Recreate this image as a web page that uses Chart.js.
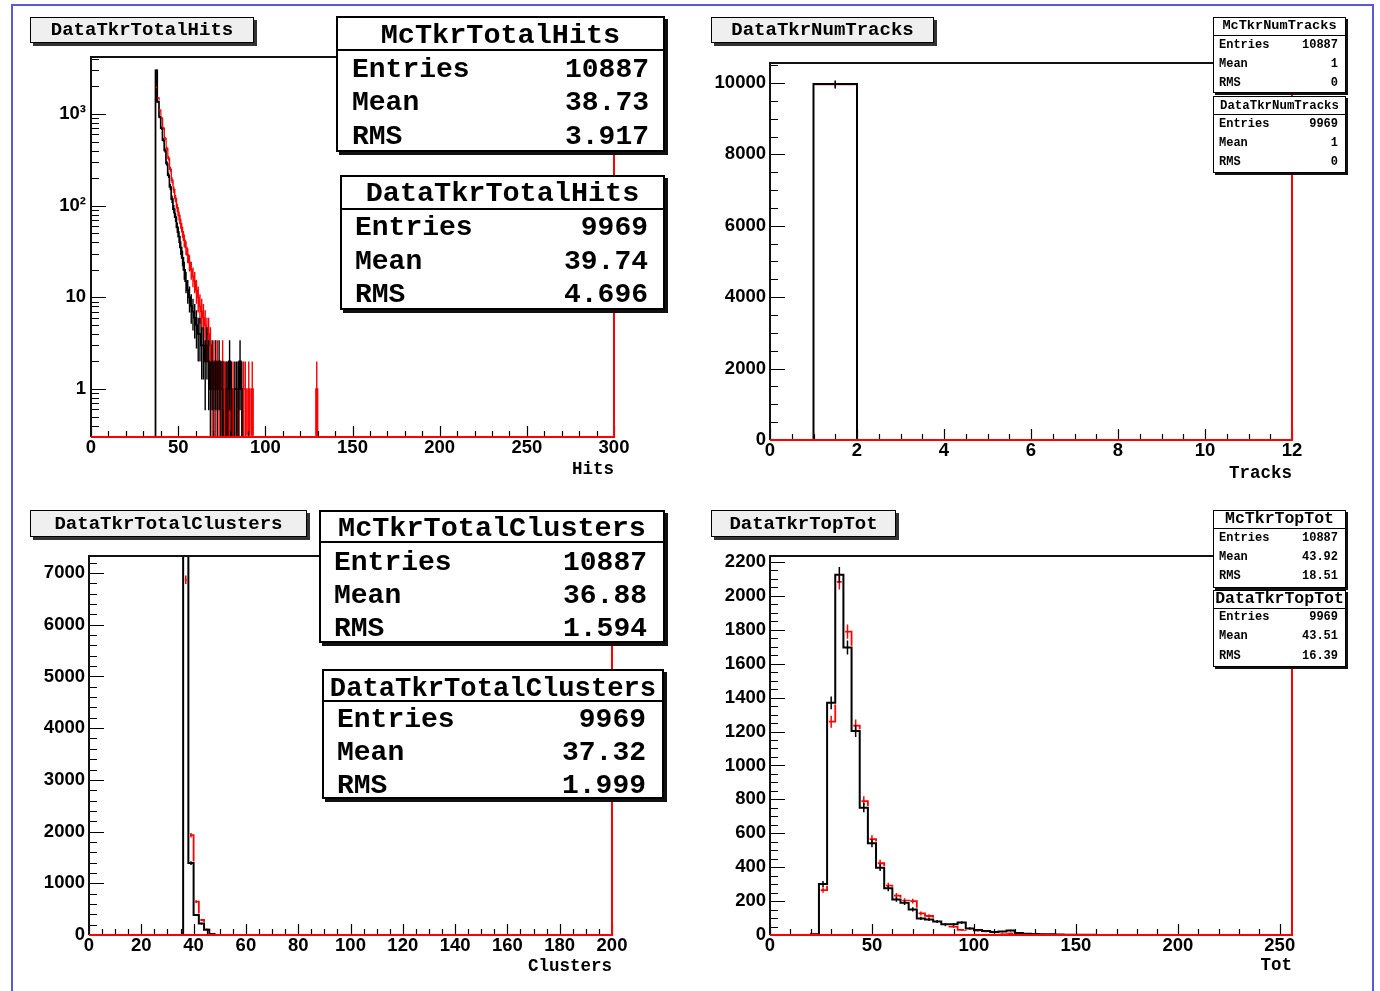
<!DOCTYPE html>
<html>
<head>
<meta charset="utf-8">
<title>Tkr histograms</title>
<script src="https://cdn.jsdelivr.net/npm/chart.js@4.4.1/dist/chart.umd.min.js"></script>
<style>
html,body{margin:0;padding:0;background:#fff;}
#page{position:relative;width:1380px;height:991px;overflow:hidden;background:#fff;}
#page canvas{position:absolute;left:0;top:0;width:1380px;height:991px;}
.frameborder{position:absolute;left:11px;top:4px;width:1363px;height:1010px;border:2px solid #5a5ad8;box-sizing:border-box;}
.tbox{position:absolute;box-sizing:border-box;background:#efefef;border:1.5px solid #000;box-shadow:3px 3px 0 #333;font:bold 19px "Liberation Mono",monospace;color:#000;display:flex;align-items:center;justify-content:center;white-space:nowrap;}
.stat{position:absolute;box-sizing:border-box;background:#fff;border:2px solid #000;box-shadow:3px 3px 0 #111;font-family:"Liberation Mono",monospace;font-weight:bold;color:#000;}
.stat.small{border-width:1.5px;box-shadow:2px 2px 0 #111;}
.stat .sep{position:absolute;left:0;right:0;height:0;border-top:2px solid #000;}
.stat.small .sep{border-top-width:1.5px;}
.stat span{position:absolute;white-space:nowrap;line-height:1;}
</style>
</head>
<body>
<div id="page">
  <div class="frameborder"></div>
  <canvas id="c1" width="1380" height="991"></canvas>
  <canvas id="c2" width="1380" height="991"></canvas>
  <canvas id="c3" width="1380" height="991"></canvas>
  <canvas id="c4" width="1380" height="991"></canvas>
</div>
<script>
// ================= DATA =================
// --- TotalHits (bin width 1, log y) ---
const dataHitsStart = 37;
const dataHitsVals = [3000,1360,930,700,520,400,290,215,160,118,92,75,58,46,35,27,20,15,12,10,8,7,6,5,4,4,3,3,2,3,2,1,2,1,2,1,2,1,1,0,1,1,2,1,0,1,1,1,2,1];
const mcHitsStart = 37;
const mcHitsVals = [1950,1500,1100,900,700,540,420,330,250,190,150,120,95,78,64,52,42,35,29,24,20,17,15,12,10,8,7,6,5,4,4,3,1,2,1,2,1,1,2,1,1,0,1,0,1,0,0,1,0,0,1,1,0,1,0,1];
const mcHitsExtraStart = 129;
const mcHitsExtraVals = [1];
const hitsXTicks = [0,50,100,150,200,250,300];
const hitsYTicks = [1,10,100,1000];
const hitsYTickLabels = ['1','10','10\u00B2','10\u00B3'];

// --- NumTracks (bin width 1) ---
const tracksStart = 1;
const dataTracksVals = [9969];
const mcTracksVals = [9940];
const tracksXTicks = [0,2,4,6,8,10,12];
const tracksYTicks = [0,2000,4000,6000,8000,10000];

// --- TotalClusters (bin width 2) ---
const clustersStart = 36;
const dataClustersVals = [7900,1390,385,220,100,20];
const mcClustersVals = [6870,1930,645,290,120,25];
const clustersXTicks = [0,20,40,60,80,100,120,140,160,180,200];
const clustersYTicks = [0,1000,2000,3000,4000,5000,6000,7000];

// --- TopTot (bin width 4) ---
const totStart = 20;
const dataTotVals = [5,301,1369,2124,1695,1203,751,541,397,275,210,190,151,98,92,79,63,63,73,39,30,24,18,20,26,12,8,6,5,4,3,2,2,1,1];
const mcTotVals = [8,265,1258,2083,1789,1235,790,565,423,291,232,202,200,127,112,80,60,49,30,35,25,20,15,12,10,8,6,5,4,3,2,2,1,1,0];
const totXTicks = [0,50,100,150,200,250];
const totYTicks = [0,200,400,600,800,1000,1200,1400,1600,1800,2000,2200];

// --- statistics boxes text ---
const statLabels = ['Entries','Mean','RMS'];
const statsHitsMc = ['McTkrTotalHits','10887','38.73','3.917'];
const statsHitsData = ['DataTkrTotalHits','9969','39.74','4.696'];
const statsTracksMc = ['McTkrNumTracks','10887','1','0'];
const statsTracksData = ['DataTkrNumTracks','9969','1','0'];
const statsClustersMc = ['McTkrTotalClusters','10887','36.88','1.594'];
const statsClustersData = ['DataTkrTotalClusters','9969','37.32','1.999'];
const statsTotMc = ['McTkrTopTot','10887','43.92','18.51'];
const statsTotData = ['DataTkrTopTot','9969','43.51','16.39'];
const panelTitles = ['DataTkrTotalHits','DataTkrNumTracks','DataTkrTotalClusters','DataTkrTopTot'];
const axisTitles = ['Hits','Tracks','Clusters','Tot'];

// ================= LAYOUT / STYLE =================
const W = 1380, H = 991, YW = 80;
const TICK_FONT = {family:'"Liberation Sans", Arial, sans-serif', size:18.5, weight:'bold'};
const TITLE_FONT = {family:'"Liberation Mono", "Courier New", monospace', size:17.5, weight:'bold'};
const BLACK = '#000000', RED = '#ff0000';

function stepList(min, max, step, exclude) {
  const out = [];
  for (let v = min; v <= max + 1e-9; v += step) {
    const r = Math.round(v * 1000) / 1000;
    if (!exclude.includes(r)) out.push(r);
  }
  return out;
}
function logMinors(min, max) {
  const out = [];
  for (let e = -1; e <= 4; e++) for (let m = 2; m <= 9; m++) {
    const v = m * Math.pow(10, e);
    if (v >= min && v <= max) out.push(v);
  }
  return out;
}

// series order: index 0 = data (black, drawn on top), index 1 = MC (red)
const panels = [
  {id:'c1', frame:{l:91,t:57,r:614,b:437}, x:{min:0,max:300}, y:{type:'logarithmic',min:0.3,max:4190},
   binW:1, xTicks:hitsXTicks, yTicks:hitsYTicks, yLabels:hitsYTickLabels,
   xMinor:stepList(0,300,10,hitsXTicks), yMinor:logMinors(0.3,4190),
   xTitle:axisTitles[0], xH:43.5, yPad:5, elw:1.4, under:0.8,
   series:[{segs:[[dataHitsStart,dataHitsVals]],color:BLACK,lw:1.7},
           {segs:[[mcHitsStart,mcHitsVals],[mcHitsExtraStart,mcHitsExtraVals]],color:RED,lw:1.5}]},
  {id:'c2', frame:{l:770,t:63,r:1292,b:440}, x:{min:0,max:12}, y:{type:'linear',min:0,max:10560},
   binW:1, xTicks:tracksXTicks, yTicks:tracksYTicks,
   xMinor:stepList(0,12,0.5,tracksXTicks), yMinor:stepList(0,10560,500,tracksYTicks),
   xTitle:axisTitles[1], xH:44.5, yPad:4, elw:1.5, under:1.4,
   series:[{segs:[[tracksStart,dataTracksVals]],color:BLACK,lw:2},{segs:[[tracksStart,mcTracksVals]],color:RED,lw:1.8}]},
  {id:'c3', frame:{l:89,t:556,r:612,b:935}, x:{min:0,max:200}, y:{type:'linear',min:0,max:7329},
   binW:2, xTicks:clustersXTicks, yTicks:clustersYTicks,
   xMinor:stepList(0,200,5,clustersXTicks), yMinor:stepList(0,7329,200,clustersYTicks),
   xTitle:axisTitles[2], xH:42.5, yPad:4, elw:1.5, under:1.4,
   series:[{segs:[[clustersStart,dataClustersVals]],color:BLACK,lw:2},{segs:[[clustersStart,mcClustersVals]],color:RED,lw:1.8}]},
  {id:'c4', frame:{l:770,t:556,r:1292,b:935}, x:{min:0,max:256}, y:{type:'linear',min:0,max:2235},
   binW:4, xTicks:totXTicks, yTicks:totYTicks,
   xMinor:stepList(0,256,10,totXTicks), yMinor:stepList(0,2235,50,totYTicks),
   xTitle:axisTitles[3], xH:41.5, yPad:4, elw:1.5, under:1.4,
   series:[{segs:[[totStart,dataTotVals]],color:BLACK,lw:2},{segs:[[totStart,mcTotVals]],color:RED,lw:1.8}]}
];

function binValues(p, segs) {
  const n = Math.round((p.x.max - p.x.min) / p.binW);
  const vals = new Array(n).fill(0);
  segs.forEach(([start, arr]) => {
    const i0 = Math.round((start - p.x.min) / p.binW);
    arr.forEach((v, k) => { if (i0 + k >= 0 && i0 + k < n) vals[i0 + k] = v; });
  });
  return vals;
}
function histPoints(p, segs, floor) {
  const vals = binValues(p, segs);
  const pts = vals.map((v, i) => ({x: p.x.min + i * p.binW, y: v > 0 ? v : floor}));
  pts.push({x: p.x.min + vals.length * p.binW, y: pts[pts.length - 1].y});
  return pts;
}

function makeRootPlugin(p) {
  const isLog = p.y.type === 'logarithmic';
  return {
    id: 'root_' + p.id,
    // datasets are drawn here through their controllers, MC first, data on top
    beforeDatasetDraw() { return false; },
    afterDatasetsDraw(chart) {
      const {ctx, chartArea: a, scales: {x, y}} = chart;
      ctx.save();
      ctx.beginPath(); ctx.rect(a.left, a.top, a.right - a.left, a.bottom - a.top); ctx.clip();
      for (let si = p.series.length - 1; si >= 0; si--) {
        const meta = chart.getDatasetMeta(si);
        if (si === 0) {
          // white underlay so the MC outline does not bleed at shared edges
          const pts = meta.data;
          ctx.save();
          ctx.strokeStyle = '#ffffff'; ctx.lineWidth = p.series[0].lw + p.under; ctx.lineJoin = 'miter';
          ctx.beginPath();
          pts.forEach((pt, i) => {
            if (i === 0) ctx.moveTo(pt.x, pt.y);
            else { ctx.lineTo(pt.x, pts[i - 1].y); ctx.lineTo(pt.x, pt.y); }
          });
          ctx.stroke();
          ctx.restore();
        }
        meta.controller.draw();
      }
      // error bars
      for (let si = p.series.length - 1; si >= 0; si--) {
        const s = p.series[si];
        const vals = binValues(p, s.segs);
        ctx.strokeStyle = s.color; ctx.lineWidth = p.elw;
        ctx.beginPath();
        vals.forEach((v, i) => {
          if (v <= 0) return;
          const e = Math.sqrt(v);
          const cx = x.getPixelForValue(p.x.min + (i + 0.5) * p.binW);
          const top = y.getPixelForValue(v + e);
          const lo = v - e;
          const bot = (isLog ? lo > p.y.min : lo > 0) ? y.getPixelForValue(lo) : a.bottom;
          ctx.moveTo(cx, top); ctx.lineTo(cx, bot);
        });
        ctx.stroke();
      }
      ctx.restore();
      // inward ticks
      ctx.save();
      ctx.strokeStyle = '#000'; ctx.lineWidth = 1.2;
      ctx.beginPath();
      const xt = (v, len) => { const px = Math.round(x.getPixelForValue(v)) + 0.5; ctx.moveTo(px, a.bottom); ctx.lineTo(px, a.bottom - len); };
      const yt = (v, len) => { const py = Math.round(y.getPixelForValue(v)) + 0.5; ctx.moveTo(a.left, py); ctx.lineTo(a.left + len, py); };
      p.xTicks.forEach(v => xt(v, 11));
      p.xMinor.forEach(v => { if (v > p.x.min && v < p.x.max) xt(v, 6); });
      p.yTicks.forEach(v => yt(v, 15));
      p.yMinor.forEach(v => { if (v > p.y.min && v < p.y.max) yt(v, 8); });
      ctx.stroke();
      // frame
      ctx.lineWidth = 2;
      ctx.strokeStyle = '#111';
      ctx.beginPath(); ctx.moveTo(a.left, a.bottom); ctx.lineTo(a.left, a.top); ctx.lineTo(a.right, a.top); ctx.stroke();
      ctx.strokeStyle = RED;
      ctx.beginPath(); ctx.moveTo(a.left, a.bottom); ctx.lineTo(a.right, a.bottom); ctx.lineTo(a.right, a.top); ctx.stroke();
      ctx.restore();
    }
  };
}

function makeChart(p) {
  const isLog = p.y.type === 'logarithmic';
  const floor = isLog ? p.y.min : 0;
  const datasets = p.series.map((s, i) => ({
    data: histPoints(p, s.segs, floor), showLine: true, stepped: 'before',
    borderColor: s.color, backgroundColor: s.color, borderWidth: s.lw,
    pointRadius: 0, pointHoverRadius: 0, fill: false, clip: 0
  }));
  return new Chart(document.getElementById(p.id), {
    type: 'scatter',
    data: {datasets},
    options: {
      responsive: false, animation: false, devicePixelRatio: 1, events: [],
      layout: {padding: {left: p.frame.l - YW, top: p.frame.t, right: W - p.frame.r, bottom: H - p.frame.b - p.xH}},
      plugins: {legend: {display: false}, tooltip: {enabled: false}},
      scales: {
        x: {type: 'linear', position: 'bottom', min: p.x.min, max: p.x.max,
            afterFit: s => { s.height = p.xH; },
            afterBuildTicks: s => { s.ticks = p.xTicks.map(v => ({value: v})); },
            grid: {display: false, drawTicks: false}, border: {display: false},
            ticks: {autoSkip: false, maxRotation: 0, minRotation: 0, padding: 0, color: '#000', font: TICK_FONT,
                    callback: v => String(v)},
            title: {display: true, text: p.xTitle, align: 'end', color: '#000', font: TITLE_FONT, padding: 0}},
        y: {type: p.y.type, position: 'left', min: p.y.min, max: p.y.max,
            afterFit: s => { s.width = YW; },
            afterBuildTicks: s => { s.ticks = p.yTicks.map(v => ({value: v})); },
            grid: {display: false, drawTicks: false}, border: {display: false},
            ticks: {autoSkip: false, padding: p.yPad, color: '#000', font: TICK_FONT,
                    callback: v => p.yLabels ? p.yLabels[p.yTicks.indexOf(v)] : String(v)}}
      }
    },
    plugins: [makeRootPlugin(p)]
  });
}
panels.forEach(makeChart);

// ================= TEXT BOXES =================
const page = document.getElementById('page');
function titleBox(l, t, w, h, text) {
  const d = document.createElement('div');
  d.className = 'tbox';
  d.style.cssText = `left:${l}px;top:${t}px;width:${w}px;height:${h}px;`;
  d.textContent = text;
  page.appendChild(d);
}
function statBox(c, st) {
  const d = document.createElement('div');
  d.className = 'stat' + (c.small ? ' small' : '');
  const bw = c.small ? 1.5 : 2;
  d.style.cssText = `left:${c.l}px;top:${c.t}px;width:${c.r - c.l}px;height:${c.b - c.t}px;`;
  const rel = yy => yy - c.t - bw;
  const hdr = document.createElement('span');
  hdr.textContent = st[0];
  hdr.style.cssText = `left:0;right:0;text-align:center;font-size:${c.fsH}px;top:${rel(c.hdr) - 0.45 * c.fsH}px;`;
  d.appendChild(hdr);
  const sep = document.createElement('div');
  sep.className = 'sep';
  sep.style.top = (rel(c.sep) - bw / 2) + 'px';
  d.appendChild(sep);
  c.rows.forEach((ry, i) => {
    const lab = document.createElement('span');
    lab.textContent = statLabels[i];
    lab.style.cssText = `left:${c.padL}px;font-size:${c.fsR}px;top:${rel(ry) - 0.45 * c.fsR}px;`;
    const val = document.createElement('span');
    val.textContent = st[i + 1];
    val.style.cssText = `right:${c.padR}px;font-size:${c.fsR}px;top:${rel(ry) - 0.45 * c.fsR}px;`;
    d.appendChild(lab); d.appendChild(val);
  });
  page.appendChild(d);
}

titleBox(30, 17, 224, 26, panelTitles[0]);
titleBox(711, 17, 223, 26, panelTitles[1]);
titleBox(30, 510, 277, 27, panelTitles[2]);
titleBox(711, 510, 185, 27, panelTitles[3]);

statBox({l:336,t:16,r:665,b:152,hdr:35,sep:50,rows:[69,102,136],fsH:28.5,fsR:28,padL:14,padR:14}, statsHitsMc);
statBox({l:340,t:175,r:665,b:310,hdr:193,sep:209,rows:[227,261,294],fsH:28.5,fsR:28,padL:13,padR:15}, statsHitsData);
statBox({l:319,t:510,r:665,b:643,hdr:528,sep:542,rows:[562,595,628],fsH:28.5,fsR:28,padL:13,padR:16}, statsClustersMc);
statBox({l:322,t:669,r:664,b:799,hdr:687,sep:701,rows:[719,752,785],fsH:27.2,fsR:28,padL:13,padR:16}, statsClustersData);

statBox({small:true,l:1213,t:17,r:1346,b:93,hdr:26,sep:36,rows:[45,64,83],fsH:13.6,fsR:12,padL:5,padR:7}, statsTracksMc);
statBox({small:true,l:1213,t:96,r:1346,b:173,hdr:106,sep:115,rows:[124,143,162],fsH:12.4,fsR:12,padL:5,padR:7}, statsTracksData);
statBox({small:true,l:1213,t:510,r:1346,b:588,hdr:519,sep:529,rows:[538,557,576],fsH:16.5,fsR:12,padL:5,padR:7}, statsTotMc);
statBox({small:true,l:1213,t:590,r:1346,b:667,hdr:599,sep:609,rows:[617,636,656],fsH:16.5,fsR:12,padL:5,padR:7}, statsTotData);
</script>
</body>
</html>
